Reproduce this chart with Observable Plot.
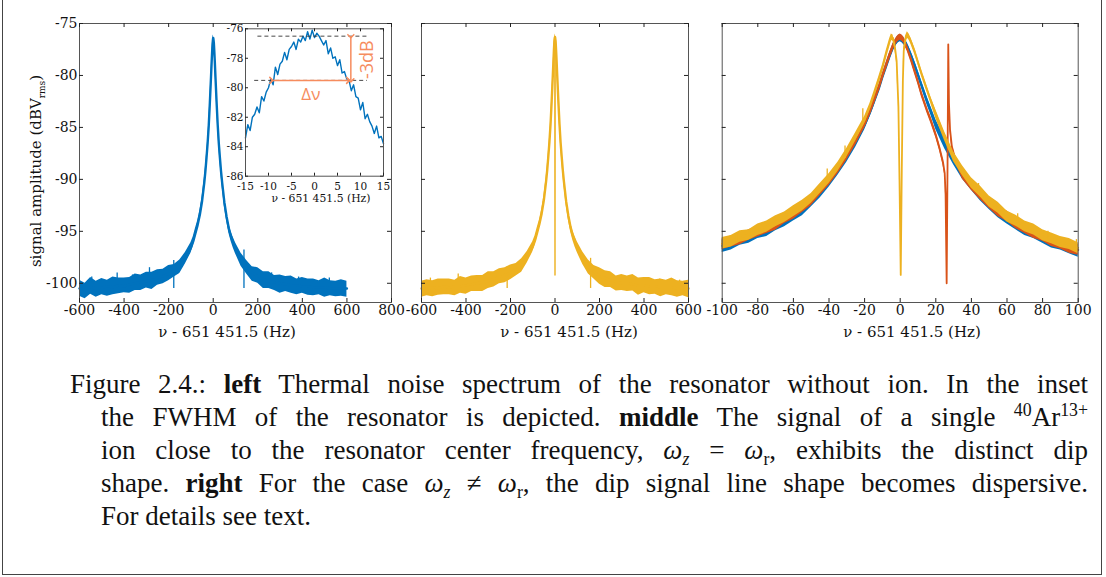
<!DOCTYPE html>
<html>
<head>
<meta charset="utf-8">
<script src="https://cdn.jsdelivr.net/npm/d3@7"></script>
<script src="https://cdn.jsdelivr.net/npm/@observablehq/plot@0.6"></script>
<style>
  body { margin: 0; background: #fff; }
  #fig { position: relative; width: 1106px; height: 577px; overflow: hidden; background: #fff; }
  .abs { position: absolute; }
  .lbl { position: absolute; transform: translate(-50%, -50%); white-space: nowrap; font-family: "DejaVu Serif"; color: #111; }
  #cap { position: absolute; left: 70px; top: 368px; width: 1018px; font-family: "Liberation Serif"; font-size: 27px; line-height: 33px; color: #111; }
  #cap div { white-space: nowrap; text-align: justify; text-align-last: justify; }
  #cap div.ind { padding-left: 31px; }
  #cap div.last { text-align-last: left; }
  #cap sup, #cap sub { font-size: 0.66em; line-height: 0; }
</style>
</head>
<body>
<div id="fig">
  <div class="abs" style="left:2px;top:-5px;width:1098px;height:578px;border:1px solid #444;"></div>
  <div id="p1" class="abs" style="left:0;top:0"></div>
  <div id="p2" class="abs" style="left:400px;top:0"></div>
  <div id="p3" class="abs" style="left:700px;top:0"></div>
  <div id="pin" class="abs" style="left:215px;top:10px"></div>
  <div class="lbl" style="left:37px;top:171px;transform:translate(-50%,-50%) rotate(-90deg);font-size:15px;">signal amplitude (dBV<sub style="font-size:0.6em">rms</sub>)</div>
  <div class="lbl" style="left:227px;top:332px;font-size:15px;">ν - 651 451.5 (Hz)</div>
  <div class="lbl" style="left:569px;top:332px;font-size:15px;">ν - 651 451.5 (Hz)</div>
  <div class="lbl" style="left:912px;top:332px;font-size:15px;">ν - 651 451.5 (Hz)</div>
  <div class="lbl" style="left:321px;top:198px;font-size:10.8px;">ν - 651 451.5 (Hz)</div>
  <div id="cap">
    <div>Figure 2.4.: <b>left</b> Thermal noise spectrum of the resonator without ion. In the inset</div>
    <div class="ind">the FWHM of the resonator is depicted. <b>middle</b> The signal of a single <sup>40</sup>Ar<sup>13+</sup></div>
    <div class="ind">ion close to the resonator center frequency, <i>ω<sub>z</sub></i> = <i>ω</i><sub>r</sub>, exhibits the distinct dip</div>
    <div class="ind">shape. <b>right</b> For the case <i>ω<sub>z</sub></i> ≠ <i>ω</i><sub>r</sub>, the dip signal line shape becomes dispersive.</div>
    <div class="ind last">For details see text.</div>
  </div>
</div>
<script>
// ---------- colours ----------
const blue = "#0072BD", red = "#D95319", yellow = "#EDB120", accent = "#F68C5E";

// ---------- tick values ----------
const leftXTicks = [-600, -400, -200, 0, 200, 400, 600, 800];
const midXTicks = [-600, -400, -200, 0, 200, 400, 600];
const rightXTicks = [-100, -80, -60, -40, -20, 0, 20, 40, 60, 80, 100];
const ampTicks = [-75, -80, -85, -90, -95, -100];
const insetXTicks = [-15, -10, -5, 0, 5, 10, 15];
const insetYTicks = [-76, -78, -80, -82, -84, -86];

// ---------- left panel: resonator without ion ----------
const leftFreq = [-600,-575,-550,-525,-500,-475,-450,-425,-400,-375,-350,-325,-300,-275,-250,-225,-200,-175,-150,-125,-100,
  -90,-80,-70,-60,-50,-40,-35,-30,-25,-20,-15,-10,-7,-5,-3,-1,0,1,3,5,7,10,15,20,25,30,35,40,50,60,70,80,90,
  100,125,150,175,200,225,250,275,300,325,350,375,400,425,450,475,500,525,550,575,600];
const leftDb = [-100.5,-100.6,-100.4,-100.5,-100.4,-100.3,-100.4,-100.2,-100.3,-100.1,-100.0,-99.9,-99.8,-99.7,-99.5,-99.3,-99.1,-98.8,-98.4,-97.6,-96.6,
  -96.0,-95.2,-94.4,-93.4,-92.1,-90.3,-89.2,-87.9,-86.5,-84.8,-82.6,-80.2,-78.7,-77.8,-77.0,-76.5,-76.4,-76.5,-76.9,-77.7,-78.6,-80.1,-82.5,-84.7,-86.5,-87.9,-89.2,-90.3,-92.2,-93.6,-94.7,-95.5,-96.1,
  -96.6,-97.7,-98.5,-99.0,-99.3,-99.6,-99.8,-99.9,-100.0,-100.1,-100.2,-100.2,-100.3,-100.3,-100.4,-100.4,-100.4,-100.5,-100.5,-100.5,-100.5];
const leftUp = [0.8,0.6,0.95,0.7,0.85,0.6,1.0,0.7,0.8,0.65,0.9,0.7,0.85,0.75,0.8,0.65,0.8,0.6,0.65,0.55,0.5,
  0.45,0.45,0.4,0.4,0.4,0.35,0.35,0.35,0.3,0.3,0.3,0.3,0.3,0.3,0.3,0.3,0.3,0.3,0.3,0.3,0.3,0.3,0.3,0.3,0.35,0.35,0.35,0.4,0.4,0.4,0.45,0.45,0.5,
  0.5,0.6,0.7,0.6,0.8,0.7,0.9,0.65,0.8,0.75,0.9,0.6,0.85,0.7,0.8,0.65,0.9,0.75,0.7,0.85,0.7];
const leftDown = [0.75,0.9,0.65,0.85,0.7,0.95,0.7,0.8,0.6,0.85,0.7,0.8,0.65,0.9,0.7,0.75,0.65,0.6,0.65,0.55,0.5,
  0.45,0.45,0.4,0.4,0.4,0.35,0.35,0.35,0.3,0.3,0.3,0.3,0.3,0.3,0.3,0.3,0.3,0.3,0.3,0.3,0.3,0.3,0.3,0.3,0.35,0.35,0.35,0.4,0.4,0.4,0.45,0.45,0.5,
  0.55,0.65,0.6,0.8,0.7,0.9,0.7,0.8,0.95,0.7,0.75,0.9,0.65,0.85,0.8,0.7,0.95,0.7,0.8,0.75,0.85];
const leftSpikeFreq = [-545, -431, -362, -286, -177, 138, 262, 383, 521];
const leftSpikeTop = [-99.4, -99.0, -99.2, -98.5, -97.8, -96.8, -99.0, -99.4, -99.5];

// ---------- middle panel: single ion, dip ----------
const midFreq = leftFreq;
const midDb = [-100.5,-100.5,-100.4,-100.5,-100.3,-100.4,-100.3,-100.3,-100.2,-100.1,-100.0,-99.9,-99.8,-99.6,-99.4,-99.2,-99.0,-98.7,-98.3,-97.5,-96.5,
  -95.9,-95.1,-94.3,-93.3,-92.0,-90.2,-89.1,-87.8,-86.4,-84.7,-82.5,-80.1,-78.6,-77.6,-76.8,-76.4,-76.3,-76.4,-76.8,-77.6,-78.5,-80.0,-82.4,-84.6,-86.4,-87.8,-89.1,-90.2,-92.1,-93.5,-94.6,-95.4,-96.0,
  -96.5,-97.6,-98.4,-98.9,-99.3,-99.5,-99.7,-99.9,-100.0,-100.0,-100.1,-100.2,-100.2,-100.3,-100.3,-100.4,-100.4,-100.4,-100.5,-100.5,-100.5];
const midUp = [0.7,0.85,0.65,0.9,0.7,0.8,0.6,0.95,0.7,0.8,0.75,0.65,0.9,0.7,0.8,0.7,0.75,0.6,0.65,0.55,0.5,
  0.45,0.45,0.4,0.4,0.4,0.35,0.35,0.35,0.3,0.3,0.3,0.3,0.3,0.3,0.3,0.3,0.3,0.3,0.3,0.3,0.3,0.3,0.3,0.3,0.35,0.35,0.35,0.4,0.4,0.4,0.45,0.45,0.5,
  0.5,0.6,0.65,0.6,0.8,0.7,0.8,0.6,0.85,0.7,0.95,0.7,0.75,0.85,0.65,0.8,0.7,0.9,0.75,0.7,0.8];
const midDown = [0.85,0.7,0.9,0.65,0.8,0.7,0.9,0.65,0.85,0.7,0.8,0.9,0.7,0.75,0.65,0.75,0.65,0.6,0.65,0.55,0.5,
  0.45,0.45,0.4,0.4,0.4,0.35,0.35,0.35,0.3,0.3,0.3,0.3,0.3,0.3,0.3,0.3,0.3,0.3,0.3,0.3,0.3,0.3,0.3,0.3,0.35,0.35,0.35,0.4,0.4,0.4,0.45,0.45,0.5,
  0.55,0.6,0.7,0.7,0.8,0.9,0.7,0.85,0.7,0.8,0.65,0.95,0.7,0.8,0.75,0.9,0.7,0.8,0.85,0.7,0.9];
const midDipFreq = [-2, -0.8, 0, 0.8, 2];
const midDipDb = [-76.6, -78.5, -99.2, -78.5, -76.6];
const midSpikeFreq = [-560, -435, -330, -215, 160, 290, 470, 560];
const midSpikeTop = [-99.5, -99.1, -99.3, -98.4, -97.6, -99.3, -99.6, -99.7];

// ---------- right panel: three spectra ----------
const blueFreq = [-100,-95,-90,-85,-80,-75,-70,-65,-60,-55,-50,-45,-40,-35,-30,-25,-20,
  -17,-15,-12,-10,-8,-6,-4,-2,-1,0,1,2,4,6,8,10,12,15,17,
  20,25,30,35,40,45,50,55,60,65,70,75,80,85,90,95,100];
const blueDb = [-96.4,-96.1,-95.8,-95.5,-95.1,-94.8,-94.4,-93.9,-93.4,-92.8,-92.1,-91.2,-90.2,-89.1,-87.8,-86.4,-84.8,
  -83.6,-82.7,-81.3,-80.2,-79.2,-78.2,-77.3,-76.7,-76.5,-76.4,-76.5,-76.7,-77.2,-78.0,-78.9,-79.9,-80.9,-82.4,-83.3,
  -84.7,-86.5,-88.1,-89.4,-90.5,-91.4,-92.3,-93.0,-93.7,-94.2,-94.7,-95.1,-95.5,-95.9,-96.2,-96.5,-96.8];
const blueUp = [0.6,0.5,0.65,0.55,0.6,0.5,0.65,0.55,0.6,0.5,0.6,0.55,0.5,0.55,0.5,0.45,0.45,
  0.4,0.4,0.35,0.35,0.35,0.35,0.35,0.35,0.35,0.35,0.35,0.35,0.35,0.35,0.35,0.35,0.35,0.4,0.4,
  0.45,0.5,0.5,0.55,0.5,0.6,0.55,0.65,0.5,0.6,0.55,0.65,0.5,0.6,0.55,0.65,0.55];
const blueDown = [0.65,0.7,0.55,0.65,0.6,0.7,0.55,0.65,0.6,0.7,0.55,0.6,0.55,0.5,0.55,0.5,0.45,
  0.4,0.4,0.35,0.35,0.35,0.35,0.35,0.35,0.35,0.35,0.35,0.35,0.35,0.35,0.35,0.35,0.35,0.4,0.4,
  0.5,0.55,0.5,0.6,0.55,0.65,0.6,0.7,0.6,0.65,0.7,0.6,0.65,0.7,0.6,0.65,0.7];

const redFreq = [-100,-95,-90,-85,-80,-75,-70,-65,-60,-55,-50,-45,-40,-35,-30,-25,-20,
  -17,-15,-12,-10,-8,-6,-4,-2,-1,0,1,2,4,6,8,10,12,15,17,
  20,22,24,25,25.5,26.1,26.6,27,27.4,28,29,31,
  35,40,45,50,55,60,65,70,75,80,85,90,95,100];
const redDb = [-96.2,-96.0,-95.7,-95.4,-95.0,-94.7,-94.3,-93.8,-93.3,-92.7,-92.0,-91.1,-90.1,-89.0,-87.7,-86.3,-84.7,
  -83.5,-82.6,-81.2,-80.1,-79.1,-78.1,-77.2,-76.6,-76.4,-76.3,-76.4,-76.6,-77.4,-78.4,-79.5,-80.6,-81.8,-83.3,-84.2,
  -85.7,-86.9,-88.3,-89.4,-91.5,-100.0,-88.5,-77.0,-82.7,-85.2,-86.8,-88.1,
  -89.5,-90.6,-91.4,-92.3,-93.0,-93.6,-94.2,-94.7,-95.1,-95.5,-95.9,-96.2,-96.5,-96.8];
const redUp = [0.5,0.55,0.45,0.55,0.5,0.55,0.45,0.55,0.5,0.55,0.45,0.5,0.45,0.45,0.4,0.4,0.35,
  0.3,0.3,0.3,0.3,0.3,0.3,0.3,0.3,0.3,0.3,0.3,0.3,0.3,0.3,0.3,0.3,0.3,0.3,0.3,
  0.3,0.3,0.3,0.2,0.1,0.1,0.1,0.1,0.1,0.2,0.3,0.3,
  0.45,0.45,0.5,0.55,0.45,0.55,0.5,0.55,0.45,0.55,0.5,0.55,0.45,0.55];
const redDown = [0.55,0.5,0.6,0.45,0.55,0.5,0.6,0.45,0.55,0.5,0.55,0.45,0.5,0.45,0.45,0.4,0.35,
  0.3,0.3,0.3,0.3,0.3,0.3,0.3,0.3,0.3,0.3,0.3,0.3,0.3,0.3,0.3,0.3,0.3,0.3,0.3,
  0.3,0.3,0.3,0.2,0.1,0.1,0.1,0.1,0.1,0.2,0.3,0.3,
  0.5,0.45,0.55,0.5,0.6,0.45,0.55,0.5,0.6,0.45,0.55,0.5,0.6,0.5];

const yelFreq = [-100,-95,-90,-85,-80,-75,-70,-65,-60,-55,-50,-45,-40,-35,-30,-25,-20,
  -17,-15,-12,-10,-8,-6,-5,-4,-3,-2,
  -1,-0.4,0.3,0.9,1.5,
  2,3,4,5,6,8,10,12,15,17,
  20,25,30,35,40,45,50,55,60,65,70,75,80,85,90,95,100];
const yelDb = [-96.2,-95.9,-95.6,-95.3,-94.9,-94.5,-94.1,-93.6,-93.1,-92.5,-91.8,-90.9,-89.9,-88.8,-87.4,-85.9,-84.3,
  -83.0,-82.0,-80.4,-79.3,-78.0,-76.8,-76.3,-76.4,-77.2,-78.6,
  -83.0,-90.0,-99.2,-89.0,-80.5,
  -77.6,-76.5,-76.1,-76.3,-76.7,-77.6,-78.7,-79.8,-81.3,-82.3,
  -83.7,-85.9,-87.8,-89.2,-90.3,-91.2,-92.1,-92.8,-93.5,-94.0,-94.5,-94.9,-95.3,-95.7,-96.0,-96.3,-96.6];
const yelUp = [0.6,0.5,0.65,0.45,0.6,0.5,0.6,0.45,0.55,0.5,0.45,0.5,0.45,0.45,0.4,0.4,0.35,
  0.3,0.3,0.3,0.3,0.3,0.3,0.3,0.3,0.3,0.3,
  0.1,0.1,0.1,0.1,0.1,
  0.3,0.3,0.3,0.3,0.3,0.3,0.3,0.3,0.3,0.3,
  0.4,0.45,0.45,0.5,0.45,0.55,0.5,0.6,0.45,0.55,0.5,0.6,0.45,0.55,0.5,0.6,0.5];
const yelDown = [0.5,0.6,0.45,0.55,0.5,0.6,0.45,0.55,0.5,0.55,0.5,0.45,0.5,0.45,0.45,0.4,0.35,
  0.3,0.3,0.3,0.3,0.3,0.3,0.3,0.3,0.3,0.3,
  0.1,0.1,0.1,0.1,0.1,
  0.3,0.3,0.3,0.3,0.3,0.3,0.3,0.3,0.3,0.3,
  0.45,0.4,0.5,0.45,0.55,0.5,0.55,0.45,0.6,0.5,0.55,0.45,0.6,0.5,0.55,0.45,0.55];
const rightSpikeFreq = [-92, -71, -41, -31, -21, 44, 66, 83, 99];
const rightSpikeTop = [-95.2, -93.7, -89.0, -86.8, -83.2, -90.4, -93.3, -95.0, -95.8];
const rightSpikeBase = [-96.1, -94.6, -90.2, -88.0, -84.6, -91.3, -94.2, -95.8, -96.6];

// ---------- inset: zoom on the resonance peak ----------
const insetFreq = [-15,-14.5,-14,-13.5,-13,-12.5,-12,-11.5,-11,-10.5,-10,-9.5,-9,-8.5,-8,-7.5,-7,-6.5,-6,-5.5,-5,-4.5,-4,-3.5,-3,-2.5,-2,-1.5,-1,-0.5,
  0,0.5,1,1.5,2,2.5,3,3.5,4,4.5,5,5.5,6,6.5,7,7.5,8,8.5,9,9.5,10,10.5,11,11.5,12,12.5,13,13.5,14,14.5,15];
const insetDb = [-83.4,-82.5,-82.9,-82.0,-81.8,-81.3,-81.7,-80.6,-80.9,-80.3,-80.0,-79.4,-79.8,-78.6,-79.1,-78.4,-78.2,-77.6,-78.1,-77.4,-77.2,-76.9,-77.4,-76.7,-76.9,-76.5,-76.8,-76.2,-76.7,-76.1,
  -76.6,-76.3,-76.5,-76.8,-77.1,-76.8,-77.7,-77.3,-78.0,-77.9,-78.5,-78.1,-79.0,-78.9,-79.4,-79.5,-80.2,-79.8,-80.6,-80.7,-81.5,-81.0,-82.1,-81.8,-82.3,-82.6,-83.1,-82.6,-83.4,-83.3,-83.8];
const dashLevels = [-76.5, -79.5];
const dashFrom = [-12.3, -13.0];
const dashTo = [11.5, 11.5];
const fwhmLeft = -9.4, fwhmRight = 7.3;        // Δν arrow ends (Hz)
const dbArrowX = 7.9;                          // -3 dB arrow position (Hz)
const deltaLabel = {x: -0.8, y: -80.0, text: "Δν"};
const dbLabel = {x: 11.4, y: -78.1, text: "-3dB"};

// ---------- helpers ----------
function rows(freq, db, up, down) {
  const n = Math.min(freq.length, db.length, up.length, down.length);
  return d3.range(n).map(i => ({f: freq[i], db: db[i], hi: db[i] + up[i], lo: db[i] - down[i]}));
}
function pairs(freq, db) {
  const n = Math.min(freq.length, db.length);
  return d3.range(n).map(i => ({f: freq[i], db: db[i]}));
}
function spectrum(data, color, sw) {
  return [
    Plot.areaY(data, {x: "f", y1: "lo", y2: "hi", fill: color}),
    Plot.line(data, {x: "f", y: "db", stroke: color, strokeWidth: sw, strokeLinejoin: "round"})
  ];
}
function spikes(freq, top, base, color) {
  const n = Math.min(freq.length, top.length);
  const data = d3.range(n).map(i => ({f: freq[i], top: top[i], base: Array.isArray(base) ? base[i] : base}));
  return Plot.ruleX(data, {x: "f", y1: "top", y2: "base", stroke: color, strokeWidth: 1.3});
}
function tickMarks(xt, yt, fw, fh, len, color) {
  return [
    Plot.tickX(xt, {x: d => d, insetTop: fh - len, stroke: color}),
    Plot.tickX(xt, {x: d => d, insetBottom: fh - len, stroke: color}),
    Plot.tickY(yt, {y: d => d, insetRight: fw - len, stroke: color}),
    Plot.tickY(yt, {y: d => d, insetLeft: fw - len, stroke: color})
  ];
}
const fmt = d => String(d);
const yDom = [-101.85, -75];

function panel(el, opt) {
  const fw = opt.width - opt.ml - opt.mr, fh = opt.height - opt.mt - opt.mb;
  const svg = Plot.plot({
    width: opt.width, height: opt.height,
    marginLeft: opt.ml, marginRight: opt.mr, marginTop: opt.mt, marginBottom: opt.mb,
    x: {domain: opt.xdom, axis: null},
    y: {domain: opt.ydom, axis: null},
    style: {background: "transparent", fontFamily: "DejaVu Serif", fontSize: opt.fs + "px", color: "#111", overflow: "visible"},
    marks: [
      ...(opt.pre || []),
      ...opt.marks,
      Plot.frame({stroke: "#555", strokeWidth: 1}),
      ...tickMarks(opt.xt, opt.yt, fw, fh, opt.tl, "#222"),
      Plot.axisX(opt.xt, {tickSize: 0, tickPadding: opt.tp, tickFormat: fmt, label: null, fontFamily: "DejaVu Serif", fontSize: opt.fs}),
      opt.ylabels ? Plot.axisY(opt.yt, {tickSize: 0, tickPadding: 2, tickFormat: fmt, label: null, fontFamily: "DejaVu Serif", fontSize: opt.fs}) : null,
      ...(opt.post || [])
    ]
  });
  document.getElementById(el).appendChild(svg);
}

// left
panel("p1", {width: 410, height: 345, ml: 79, mr: 19, mt: 23, mb: 43, xdom: [-600, 800], ydom: yDom,
  xt: leftXTicks, yt: ampTicks, tl: 4, tp: 3, fs: 14, ylabels: true,
  marks: [
    spikes(leftSpikeFreq, leftSpikeTop, -100.5, blue),
    ...spectrum(rows(leftFreq, leftDb, leftUp, leftDown), blue, 2.4)
  ]});
// middle
panel("p2", {width: 300, height: 345, ml: 21, mr: 12, mt: 23, mb: 43, xdom: [-600, 600], ydom: yDom,
  xt: midXTicks, yt: ampTicks, tl: 4, tp: 3, fs: 14, ylabels: false,
  marks: [
    spikes(midSpikeFreq, midSpikeTop, -100.5, yellow),
    ...spectrum(rows(midFreq, midDb, midUp, midDown), yellow, 2.4),
    Plot.line(pairs(midDipFreq, midDipDb), {x: "f", y: "db", stroke: yellow, strokeWidth: 1.4})
  ]});
// right
panel("p3", {width: 406, height: 345, ml: 21.7, mr: 28.3, mt: 23, mb: 43, xdom: [-100, 100], ydom: yDom,
  xt: rightXTicks, yt: ampTicks, tl: 4, tp: 3, fs: 14, ylabels: false,
  marks: [
    ...spectrum(rows(blueFreq, blueDb, blueUp, blueDown), blue, 2),
    ...spectrum(rows(redFreq, redDb, redUp, redDown), red, 1.8),
    ...spectrum(rows(yelFreq, yelDb, yelUp, yelDown), yellow, 1.8),
    spikes(rightSpikeFreq, rightSpikeTop, rightSpikeBase, yellow)
  ]});
// inset
const dashData = d3.range(dashLevels.length).map(i => ({y: dashLevels[i], x1: dashFrom[i], x2: dashTo[i]}));
panel("pin", {width: 180, height: 200, ml: 30, mr: 12, mt: 18.3, mb: 34.3, xdom: [-15, 15], ydom: [-86, -76],
  xt: insetXTicks, yt: insetYTicks, tl: 3, tp: 6, fs: 10.5, ylabels: true,
  pre: [Plot.frame({fill: "white", stroke: "none"})],
  marks: [
    Plot.line(pairs(insetFreq, insetDb), {x: "f", y: "db", stroke: blue, strokeWidth: 1.4}),
    Plot.ruleY(dashData, {y: "y", x1: "x1", x2: "x2", stroke: "#333", strokeWidth: 0.9, strokeDasharray: "4,3"}),
    Plot.link([{x1: fwhmLeft, x2: fwhmRight, y: dashLevels[1]}], {x1: "x1", x2: "x2", y1: "y", y2: "y", stroke: accent, strokeWidth: 1.5, markerStart: "arrow", markerEnd: "arrow"}),
    Plot.link([{x: dbArrowX, y1: dashLevels[0], y2: dashLevels[1]}], {x1: "x", x2: "x", y1: "y1", y2: "y2", stroke: accent, strokeWidth: 1.5, markerStart: "arrow", markerEnd: "arrow"}),
    Plot.text([deltaLabel], {x: "x", y: "y", text: "text", fill: accent, fontSize: 17, fontFamily: "Open Sans", lineAnchor: "top"}),
    Plot.text([dbLabel], {x: "x", y: "y", text: "text", fill: accent, fontSize: 18, fontFamily: "Open Sans", rotate: -90})
  ]});
</script>
</body>
</html>
